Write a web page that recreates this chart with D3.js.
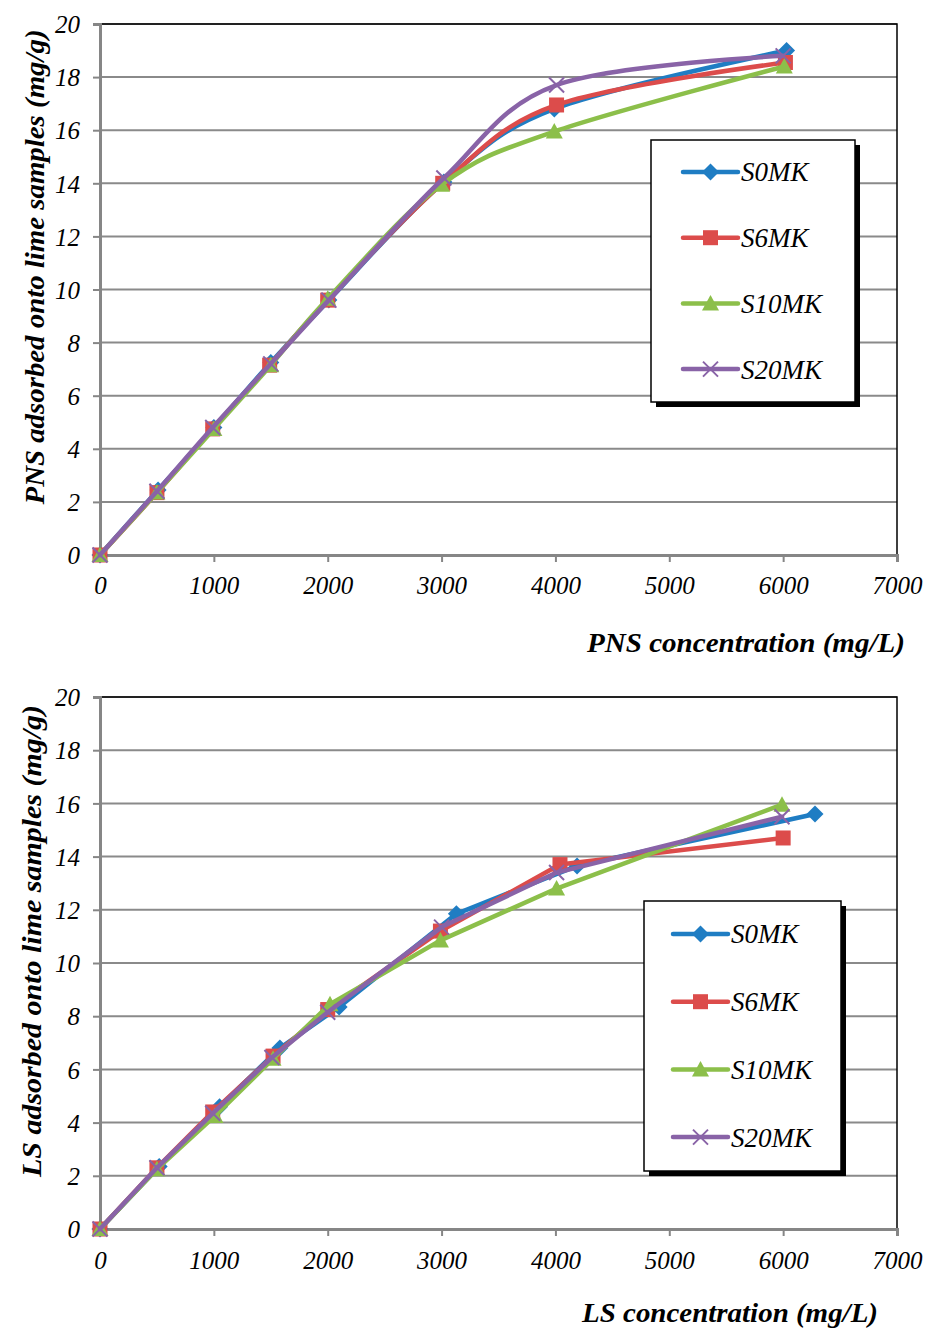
<!DOCTYPE html>
<html>
<head>
<meta charset="utf-8">
<script src="https://cdn.jsdelivr.net/npm/d3@7"></script>
<style>
  body { margin: 0; background: #fff; }
  svg text { font-family: "Liberation Serif", "Times New Roman", Times, serif; }
</style>
</head>
<body>
<div id="chart"></div>
<script>
// tick values and series names
const xTicks = [0, 1000, 2000, 3000, 4000, 5000, 6000, 7000];
const yTicks = [0, 2, 4, 6, 8, 10, 12, 14, 16, 18, 20];
const seriesNames = ["S0MK", "S6MK", "S10MK", "S20MK"];

// PNS panel (top)
const pnsS0MK_x = [0, 510, 1000, 1500, 2010, 3020, 3990, 6030];
const pnsS0MK_y = [0, 2.45, 4.8, 7.25, 9.6, 14.05, 16.8, 19.0];
const pnsS6MK_x = [0, 500, 990, 1490, 2000, 3010, 4010, 6020];
const pnsS6MK_y = [0, 2.35, 4.75, 7.15, 9.6, 14.0, 16.95, 18.55];
const pnsS10MK_x = [0, 500, 1000, 1500, 2000, 3000, 3990, 6010];
const pnsS10MK_y = [0, 2.35, 4.75, 7.15, 9.65, 13.95, 15.95, 18.4];
const pnsS20MK_x = [0, 500, 990, 1500, 2010, 3020, 4010, 6000];
const pnsS20MK_y = [0, 2.4, 4.8, 7.2, 9.6, 14.2, 17.7, 18.8];

// LS panel (bottom)
const lsS0MK_x = [0, 520, 1050, 1580, 2100, 3130, 4190, 6280];
const lsS0MK_y = [0, 2.35, 4.6, 6.8, 8.35, 11.85, 13.65, 15.6];
const lsS6MK_x = [0, 500, 990, 1520, 2000, 2990, 4040, 6000];
const lsS6MK_y = [0, 2.3, 4.4, 6.5, 8.25, 11.2, 13.7, 14.7];
const lsS10MK_x = [0, 500, 1010, 1520, 2020, 2990, 4010, 5990];
const lsS10MK_y = [0, 2.25, 4.25, 6.4, 8.45, 10.85, 12.8, 15.95];
const lsS20MK_x = [0, 500, 990, 1510, 2000, 3000, 4010, 5990];
const lsS20MK_y = [0, 2.3, 4.35, 6.45, 8.15, 11.35, 13.4, 15.5];

const colors = ["#1f7dc3", "#dc4c4b", "#8cbf4a", "#8963a7"];
const shapes = ["diamond", "square", "triangle", "cross"];

const svg = d3.select("#chart").append("svg")
    .attr("width", 925)
    .attr("height", 1329);

const zip = (xs, ys) => xs.map((x, i) => ({ x: x, y: ys[i] }));

function drawMarker(g, shape, color, cx, cy) {
    if (shape === "diamond") {
        g.append("path")
            .attr("d", `M${cx},${cy - 8.5}L${cx + 8.5},${cy}L${cx},${cy + 8.5}L${cx - 8.5},${cy}Z`)
            .attr("fill", color);
    } else if (shape === "square") {
        g.append("rect")
            .attr("x", cx - 7.5).attr("y", cy - 7.5)
            .attr("width", 15).attr("height", 15)
            .attr("fill", color);
    } else if (shape === "triangle") {
        g.append("path")
            .attr("d", `M${cx},${cy - 8.5}L${cx + 8.5},${cy + 7}L${cx - 8.5},${cy + 7}Z`)
            .attr("fill", color);
    } else {
        g.append("path")
            .attr("d", `M${cx - 7.5},${cy - 7.5}L${cx + 7.5},${cy + 7.5}M${cx + 7.5},${cy - 7.5}L${cx - 7.5},${cy + 7.5}`)
            .attr("stroke", color)
            .attr("stroke-width", 2)
            .attr("fill", "none");
    }
}

function drawPanel(opt) {
    const x = d3.scaleLinear().domain([0, 7000]).range([opt.left, opt.right]);
    const y = d3.scaleLinear().domain([0, 20]).range([opt.bottom, opt.top]);
    const g = svg.append("g");

    // horizontal gridlines
    g.append("g").selectAll("line")
        .data(yTicks.slice(1))
        .enter().append("line")
        .attr("x1", opt.left).attr("x2", opt.right)
        .attr("y1", d => y(d)).attr("y2", d => y(d))
        .attr("stroke", "#8a8a8a")
        .attr("stroke-width", 2);

    // plot border (top/right)
    g.append("path")
        .attr("d", `M${opt.left},${y(20)}H${opt.right}V${opt.bottom}`)
        .attr("fill", "none")
        .attr("stroke", "#000")
        .attr("stroke-width", 1.5);

    // axes
    const yAxis = g.append("g")
        .attr("transform", `translate(${opt.left},0)`)
        .call(d3.axisLeft(y).tickValues(yTicks).tickSize(7).tickFormat(d3.format("d")));
    const xAxis = g.append("g")
        .attr("transform", `translate(0,${opt.bottom})`)
        .call(d3.axisBottom(x).tickValues(xTicks).tickSize(7).tickFormat(d3.format("d")));

    [xAxis, yAxis].forEach(a => {
        a.attr("font-family", null).attr("font-size", null);
        a.select(".domain").attr("stroke", "#868686").attr("stroke-width", 3);
        a.selectAll(".tick line").attr("stroke", "#868686").attr("stroke-width", 2);
        a.selectAll(".tick text")
            .attr("fill", "#000")
            .style("font-style", "italic")
            .style("font-size", "25px");
    });
    yAxis.selectAll(".tick text").attr("x", -20).attr("dy", "0.35em");
    xAxis.selectAll(".tick text").attr("y", opt.tickLabelY - opt.bottom).attr("dy", 0);

    // series
    const line = d3.line()
        .x(d => x(d.x))
        .y(d => y(d.y))
        .curve(opt.curve);

    opt.series.forEach((s, i) => {
        const sg = g.append("g");
        sg.append("path")
            .attr("d", line(s))
            .attr("fill", "none")
            .attr("stroke", colors[i])
            .attr("stroke-width", 4.5)
            .attr("stroke-linecap", "round")
            .attr("stroke-linejoin", "round");
        s.forEach(d => drawMarker(sg, shapes[i], colors[i], x(d.x), y(d.y)));
    });

    // axis titles
    g.append("text")
        .attr("x", opt.xTitleX)
        .attr("y", opt.xTitleY)
        .attr("text-anchor", "end")
        .attr("textLength", opt.xTitleLen)
        .attr("lengthAdjust", "spacingAndGlyphs")
        .style("font-weight", "bold")
        .style("font-style", "italic")
        .style("font-size", "27px")
        .text(opt.xTitle);

    g.append("text")
        .attr("transform", `translate(${opt.yTitleX},${opt.yTitleY}) rotate(-90)`)
        .attr("text-anchor", "middle")
        .attr("dy", "0.35em")
        .attr("textLength", opt.yTitleLen)
        .attr("lengthAdjust", "spacingAndGlyphs")
        .style("font-weight", "bold")
        .style("font-style", "italic")
        .style("font-size", "27px")
        .text(opt.yTitle);

    // legend
    const lg = g.append("g");
    const L = opt.legend;
    lg.append("rect")
        .attr("x", L.x + 5).attr("y", L.y + 5)
        .attr("width", L.w).attr("height", L.h)
        .attr("fill", "#000");
    lg.append("rect")
        .attr("x", L.x).attr("y", L.y)
        .attr("width", L.w).attr("height", L.h)
        .attr("fill", "#fff")
        .attr("stroke", "#000")
        .attr("stroke-width", 1.5);
    seriesNames.forEach((name, i) => {
        const ly = L.y + L.firstRow + i * L.rowStep;
        const lx0 = L.x + L.lineStart;
        lg.append("line")
            .attr("x1", lx0).attr("x2", lx0 + 55)
            .attr("y1", ly).attr("y2", ly)
            .attr("stroke", colors[i])
            .attr("stroke-width", 4.5)
            .attr("stroke-linecap", "round");
        drawMarker(lg, shapes[i], colors[i], lx0 + 27.5, ly);
        lg.append("text")
            .attr("x", lx0 + 58)
            .attr("y", ly)
            .attr("dy", "0.35em")
            .style("font-style", "italic")
            .style("font-size", "27px")
            .text(name);
    });
}

drawPanel({
    left: 100, right: 897, top: 24, bottom: 555,
    tickLabelY: 594, curve: d3.curveCardinal.tension(0),
    series: [zip(pnsS0MK_x, pnsS0MK_y), zip(pnsS6MK_x, pnsS6MK_y), zip(pnsS10MK_x, pnsS10MK_y), zip(pnsS20MK_x, pnsS20MK_y)],
    xTitle: "PNS concentration (mg/L)", xTitleX: 905, xTitleY: 652, xTitleLen: 318,
    yTitle: "PNS adsorbed onto lime samples (mg/g)", yTitleX: 35, yTitleY: 267, yTitleLen: 475,
    legend: { x: 651, y: 140, w: 204, h: 262, lineStart: 32, firstRow: 32, rowStep: 65.7 }
});

drawPanel({
    left: 100, right: 897, top: 697, bottom: 1229,
    tickLabelY: 1269, curve: d3.curveLinear,
    series: [zip(lsS0MK_x, lsS0MK_y), zip(lsS6MK_x, lsS6MK_y), zip(lsS10MK_x, lsS10MK_y), zip(lsS20MK_x, lsS20MK_y)],
    xTitle: "LS concentration (mg/L)", xTitleX: 878, xTitleY: 1322, xTitleLen: 296,
    yTitle: "LS adsorbed onto lime samples (mg/g)", yTitleX: 32, yTitleY: 941, yTitleLen: 472,
    legend: { x: 644, y: 901, w: 197, h: 270, lineStart: 29, firstRow: 33, rowStep: 67.7 }
});
</script>
</body>
</html>
